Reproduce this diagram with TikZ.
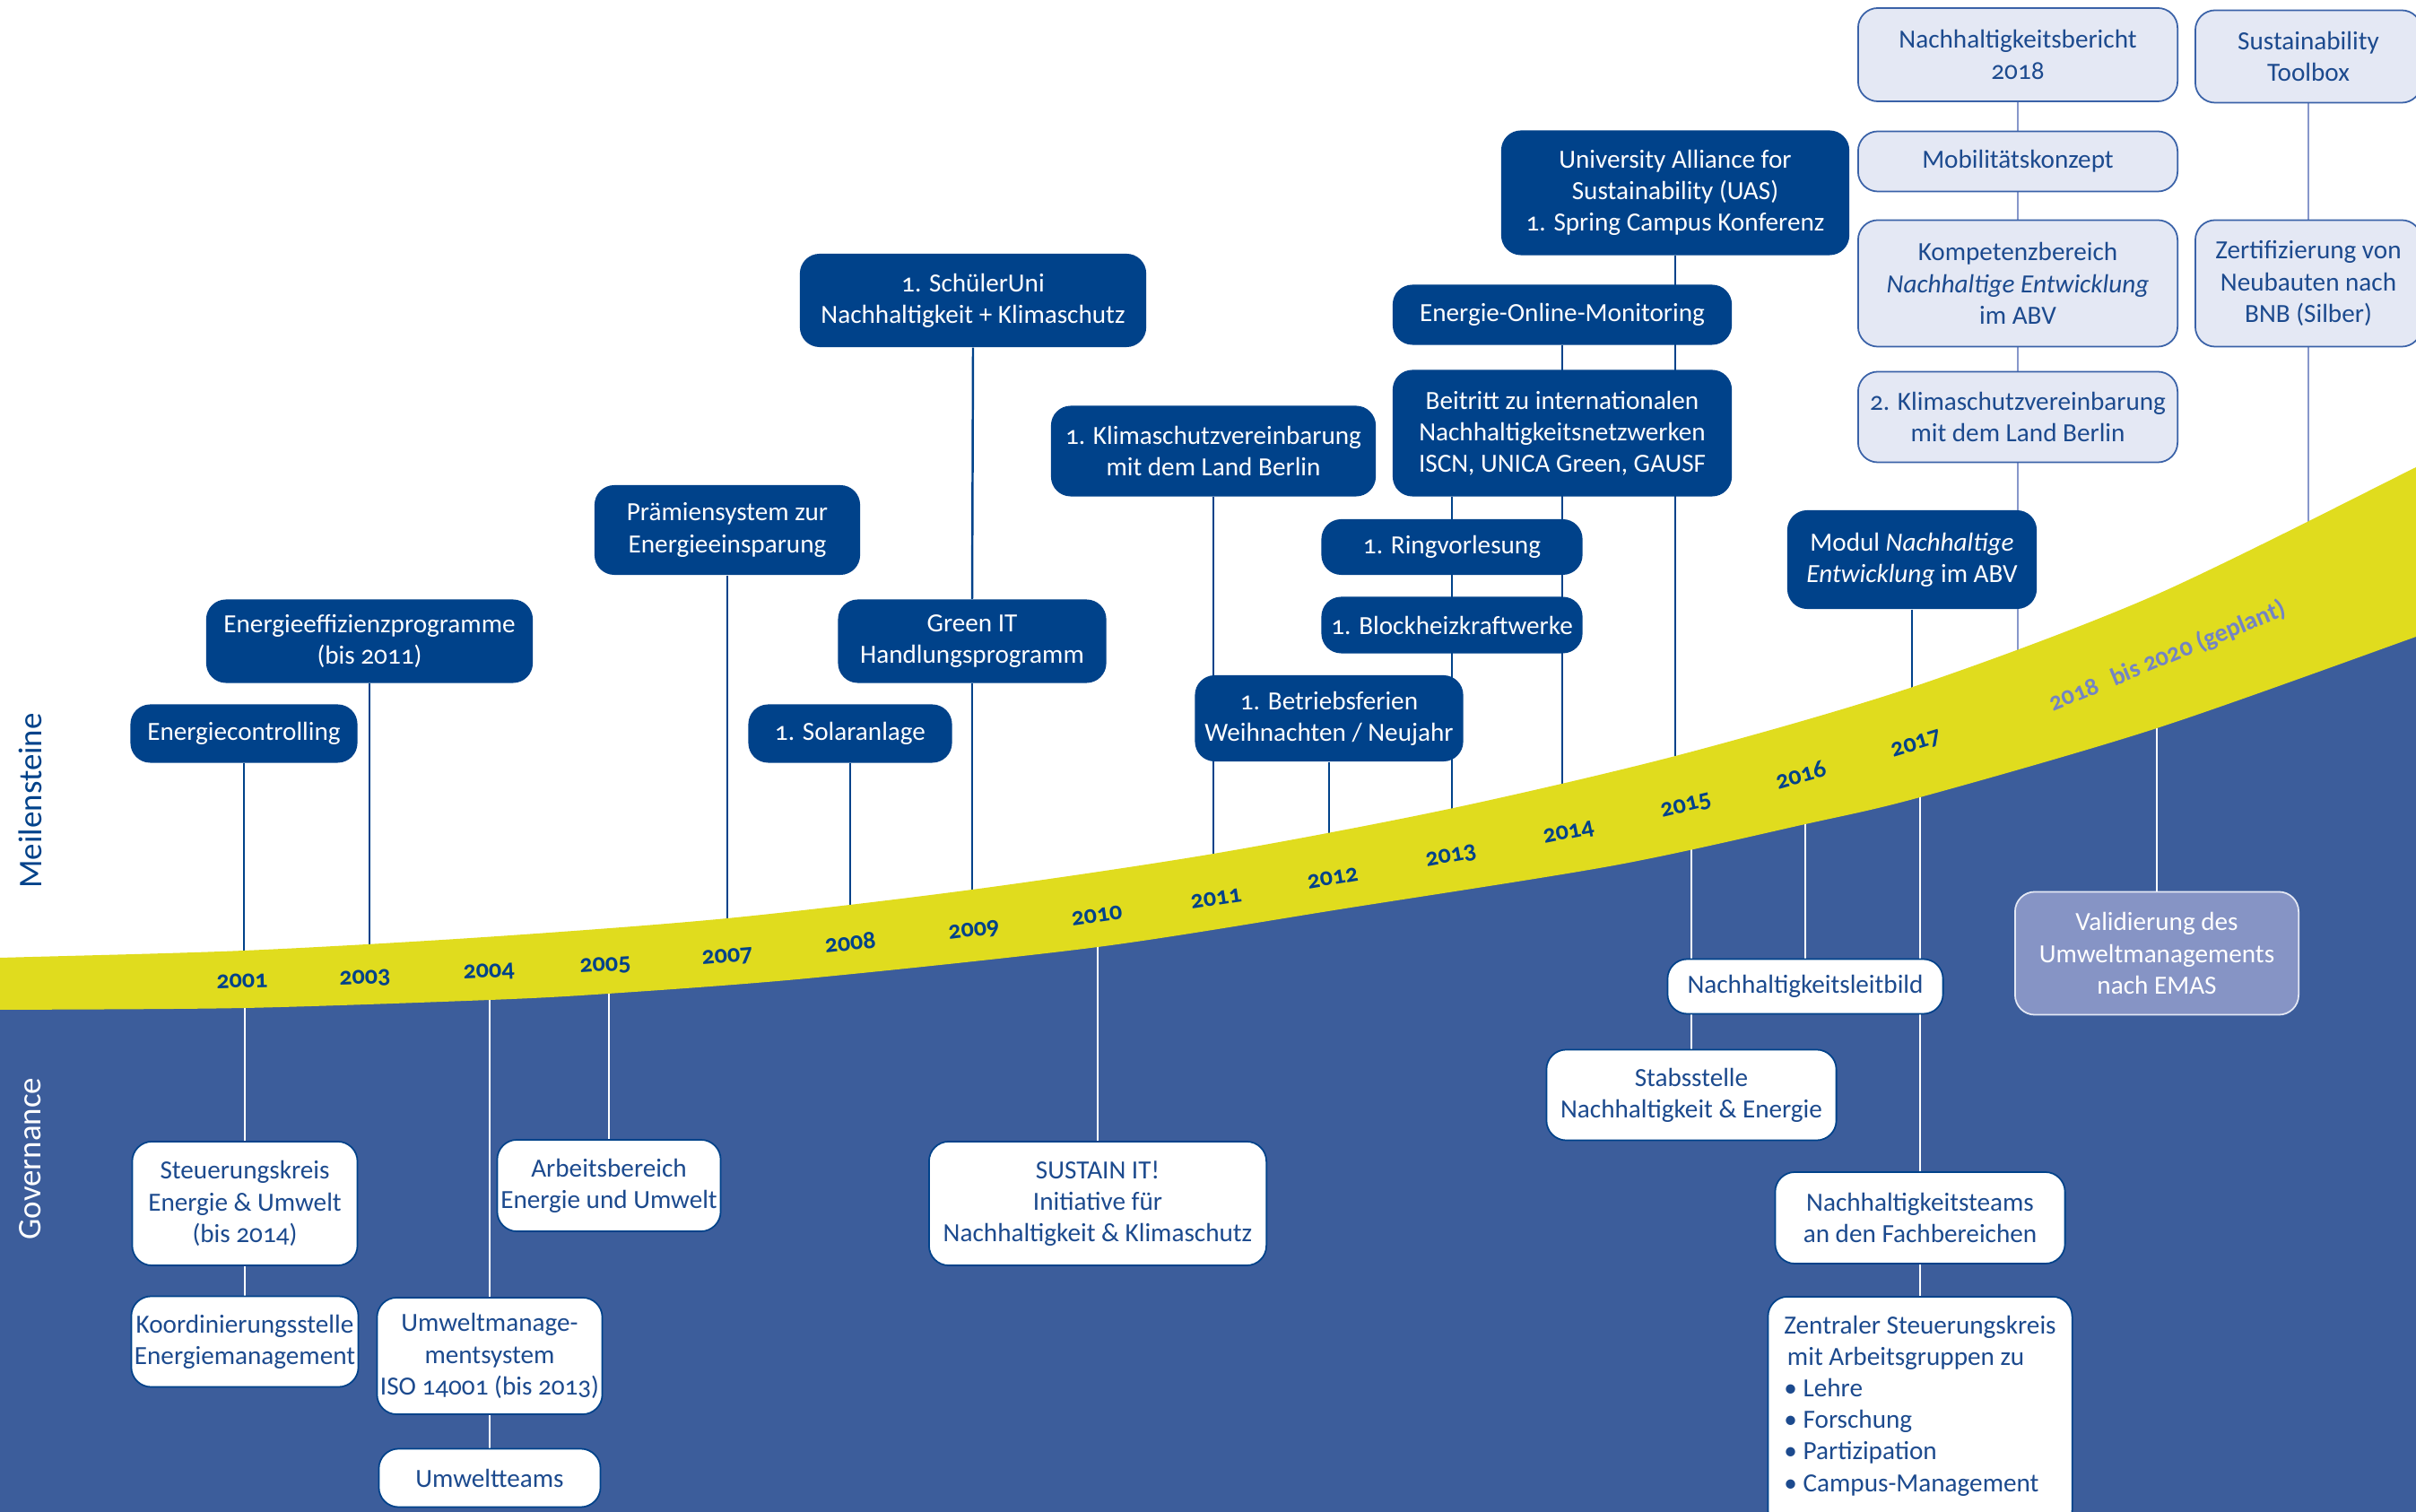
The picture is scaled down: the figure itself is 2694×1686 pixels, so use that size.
\documentclass[tikz,border=0pt]{standalone}
\usepackage{fontspec}
\setmainfont{Carlito}[Numbers=OldStyle]
\newfontfamily\seitenfont{Carlito}
\usepackage{xcolor}
\usepackage{tikz}

\definecolor{ukdunkel}{HTML}{00428A}
\definecolor{ukblau}{HTML}{3C5D9B}
\definecolor{ukgelb}{HTML}{E0DC1E}
\definecolor{ukhell}{HTML}{E4E8F4}
\definecolor{ukrand}{HTML}{3A62A8}
\definecolor{ukplan}{HTML}{8797CB}
\definecolor{ukemas}{HTML}{8694C5}
\definecolor{uktext}{HTML}{1C4A8E}
\definecolor{ukplantext}{HTML}{7384C4}

\pgfdeclarelayer{flaeche}
\pgfdeclarelayer{linien}
\pgfsetlayers{flaeche,linien,main}

\tikzset{
	kasten/.style={rounded corners=0.22cm, align=center, inner sep=1pt, font=\fontsize{8.3}{10}\selectfont},
	meilenstein/.style={kasten, fill=ukdunkel, text=white},
	geplant/.style={kasten, fill=ukhell, draw=ukrand, line width=0.5pt, text=uktext},
	gremium/.style={kasten, fill=white, draw=ukdunkel, line width=0.5pt, text=uktext},
	emas/.style={kasten, fill=ukemas, draw=ukhell, line width=0.5pt, text=white},
	jahr/.style={font=\bfseries\fontsize{8}{9.6}\selectfont, text=ukdunkel, inner sep=0pt},
	seite/.style={font=\seitenfont\fontsize{10.5}{12}\selectfont, inner sep=0pt},
	linie/.style={ukdunkel, line width=0.7pt},
	planlinie/.style={ukplan, line width=0.7pt},
	weisslinie/.style={white, line width=0.8pt}
}

\begin{document}
\begin{tikzpicture}[x=0.01cm, y=-0.01cm]
\useasboundingbox (0,0) rectangle (2694,1686);
\clip (0,0) rectangle (2694,1686);

% hintergrund
\begin{pgfonlayer}{flaeche}
	\fill[white] (0,0) rectangle (2694,1686);
	\fill[ukblau, yshift=0.04cm] plot[smooth] coordinates {(-20,1126) (0,1126) (272,1124) (546,1115) (678,1108) (900,1091) (1224,1056) (1500,1013) (1800,965) (2013,919) (2141,889) (2405,812) (2694,710) (2720,700)} -- (2720,1720) -- (-20,1720) -- cycle;
\end{pgfonlayer}

% band
\fill[ukgelb] plot[smooth] coordinates {(-20,1069) (0,1068) (272,1060) (540,1045) (811,1024) (1084,992) (1353,952) (1616,902) (1872,842) (2130,767) (2400,665) (2694,521) (2720,507)}
	-- plot[smooth] coordinates {(2720,700) (2694,710) (2405,812) (2141,889) (2013,919) (1800,965) (1500,1013) (1224,1056) (900,1091) (678,1108) (546,1115) (272,1124) (0,1126) (-20,1126)} -- cycle;

\foreach \jahr/\x/\y/\w in {2001/270/1094/1.5, 2003/407/1091/2, 2004/545/1084/2.5, 2005/675/1077/3.5, 2007/811/1067/4.5, 2008/948/1051/6, 2009/1086/1038/7, 2010/1223/1021/8, 2011/1356/1002/8.5, 2012/1486/979/9.5, 2013/1618/955/10.5, 2014/1749/929/11.5, 2015/1880/899/13.5, 2016/2008/864/15.5, 2017/2137/830/17}{
	\node[jahr, rotate=\w] (j\jahr) at (\x,\y) {\jahr};
}
\node[jahr, text=ukplantext, rotate=22.5] (plan) at (2417,732) {2018\hspace{0.6em}bis 2020 (geplant)};
\coordinate (p1) at (2250,790);
\coordinate (p2) at (2405,736);
\coordinate (p3) at (2575,670);

\node[seite, text=ukdunkel, rotate=90] (meilen) at (34,893) {Meilensteine};
\node[seite, text=white, rotate=90] (gov) at (34,1292) {Governance};

% meilensteine
\node[meilenstein, minimum width=2.53cm, minimum height=0.65cm] (ctrl) at (272,818) {Energiecontrolling};
\node[meilenstein, minimum width=3.64cm, minimum height=0.93cm] (effiz) at (412,715) {Energieeffizienzprogramme\\(bis 2011)};
\node[meilenstein, minimum width=2.96cm, minimum height=1.0cm] (praemie) at (811,591) {Prämiensystem zur\\Energieeinsparung};
\node[meilenstein, minimum width=2.27cm, minimum height=0.65cm] (solar) at (948,818) {1. Solaranlage};
\node[meilenstein, minimum width=3.86cm, minimum height=1.04cm] (schueler) at (1085,335) {1. SchülerUni\\Nachhaltigkeit + Klimaschutz};
\node[meilenstein, minimum width=2.99cm, minimum height=0.93cm] (greenit) at (1084,715) {Green IT\\Handlungsprogramm};
\node[meilenstein, minimum width=3.62cm, minimum height=1.01cm] (klima) at (1353,503) {1. Klimaschutzvereinbarung\\mit dem Land Berlin};
\node[meilenstein, minimum width=2.99cm, minimum height=0.96cm] (ferien) at (1482,801) {1. Betriebsferien\\Weihnachten / Neujahr};
\node[meilenstein, minimum width=2.91cm, minimum height=0.62cm] (ring) at (1619,610) {1. Ringvorlesung};
\node[meilenstein, minimum width=2.91cm, minimum height=0.63cm] (bhkw) at (1619,697) {1. Blockheizkraftwerke};
\node[meilenstein, minimum width=3.78cm, minimum height=0.67cm] (monitoring) at (1742,351) {Energie-Online-Monitoring};
\node[meilenstein, minimum width=3.78cm, minimum height=1.41cm] (beitritt) at (1742,483) {Beitritt zu internationalen\\Nachhaltigkeitsnetzwerken\\ISCN, UNICA Green, GAUSF};
\node[meilenstein, minimum width=3.88cm, minimum height=1.39cm] (uas) at (1868,215) {University Alliance for\\Sustainability (UAS)\\1. Spring Campus Konferenz};
\node[meilenstein, minimum width=2.78cm, minimum height=1.1cm] (modul) at (2132,624) {Modul \textit{Nachhaltige}\\\textit{Entwicklung} im ABV};

% geplant
\node[geplant, minimum width=3.56cm, minimum height=1.04cm] (bericht) at (2250,61) {Nachhaltigkeitsbericht\\2018};
\node[geplant, minimum width=3.56cm, minimum height=0.67cm] (mobil) at (2250,180) {Mobilitätskonzept};
\node[geplant, minimum width=3.56cm, minimum height=1.41cm] (kompetenz) at (2250,316) {Kompetenzbereich\\\textit{Nachhaltige Entwicklung}\\im ABV};
\node[geplant, minimum width=3.56cm, minimum height=1.01cm] (klima2) at (2250,465) {2. Klimaschutzvereinbarung\\mit dem Land Berlin};
\node[geplant, minimum width=2.52cm, minimum height=1.03cm] (toolbox) at (2574,63) {Sustainability\\Toolbox};
\node[geplant, minimum width=2.52cm, minimum height=1.41cm] (zert) at (2574,316) {Zertifizierung von\\Neubauten nach\\BNB (Silber)};

% governance
\node[gremium, minimum width=2.51cm, minimum height=1.38cm] (steuer) at (273,1342) {Steuerungskreis\\Energie \& Umwelt\\(bis 2014)};
\node[gremium, minimum width=2.51cm, minimum height=1.01cm] (koord) at (273,1496) {Koordinierungsstelle\\Energiemanagement};
\node[gremium, minimum width=2.47cm, minimum height=1.30cm] (ums) at (546,1512) {Umweltmanage-\\mentsystem\\ISO 14001 (bis 2013)};
\node[gremium, minimum width=2.47cm, minimum height=0.65cm] (teams) at (546,1648) {Umweltteams};
\node[gremium, minimum width=2.49cm, minimum height=1.02cm] (arbeit) at (679,1322) {Arbeitsbereich\\Energie und Umwelt};
\node[gremium, minimum width=3.76cm, minimum height=1.38cm] (sustain) at (1224,1342) {SUSTAIN IT!\\Initiative für\\Nachhaltigkeit \& Klimaschutz};
\node[gremium, minimum width=3.07cm, minimum height=0.61cm] (leitbild) at (2013,1100) {Nachhaltigkeitsleitbild};
\node[gremium, minimum width=3.23cm, minimum height=1.01cm] (stab) at (1886,1221) {Stabsstelle\\Nachhaltigkeit \& Energie};
\node[gremium, minimum width=3.23cm, minimum height=1.02cm] (nteams) at (2141,1358) {Nachhaltigkeitsteams\\an den Fachbereichen};
\node[gremium, anchor=north, minimum width=3.39cm, minimum height=2.6cm, align=left] (zentral) at (2141,1445) {Zentraler Steuerungskreis\\\hspace{1pt}mit Arbeitsgruppen zu\\• Lehre\\• Forschung\\• Partizipation\\• Campus-Management\rule[-0.22cm]{0pt}{0.22cm}};
\node[emas, minimum width=3.16cm, minimum height=1.37cm] (emas) at (2405,1063) {Validierung des\\Umweltmanagements\\nach EMAS};

% verbindungen
\begin{pgfonlayer}{linien}
	\draw[linie] (ctrl.south) -- (ctrl.south |- j2001);
	\draw[linie] (effiz.south) -- (effiz.south |- j2003);
	\draw[linie] (praemie.south) -- (praemie.south |- j2007);
	\draw[linie] (solar.south) -- (solar.south |- j2008);
	\draw[linie] (schueler.south) -- (greenit.north);
	\draw[linie] (greenit.south) -- (greenit.south |- j2009);
	\draw[linie] (klima.south) -- (klima.south |- j2011);
	\draw[linie] (ferien.south) -- (ferien.south |- j2012);
	\draw[linie] (ring.south |- beitritt.south) -- (ring.south |- j2013);
	\draw[linie] (monitoring.south) -- (monitoring.south |- j2014);
	\draw[linie] (uas.south) -- (uas.south |- j2015);
	\draw[linie] (modul.south) -- (modul.south |- j2017);

	\draw[planlinie] (bericht.south) -- (bericht.south |- p1);
	\draw[planlinie] (toolbox.south) -- (toolbox.south |- p3);

	\draw[weisslinie] (steuer.north |- j2001) -- (steuer.north);
	\draw[weisslinie] (steuer.south) -- (koord.north);
	\draw[weisslinie] (ums.north |- j2004) -- (ums.north);
	\draw[weisslinie] (ums.south) -- (teams.north);
	\draw[weisslinie] (arbeit.north |- j2005) -- (arbeit.north);
	\draw[weisslinie] (sustain.north |- j2010) -- (sustain.north);
	\draw[weisslinie] (stab.north |- j2015) -- (stab.north);
	\draw[weisslinie] (leitbild.north |- j2016) -- (leitbild.north);
	\draw[weisslinie] (nteams.north |- j2017) -- (nteams.north);
	\draw[weisslinie] (nteams.south) -- (zentral.north);
	\draw[weisslinie] (emas.north |- p2) -- (emas.north);
\end{pgfonlayer}

\end{tikzpicture}
\end{document}
